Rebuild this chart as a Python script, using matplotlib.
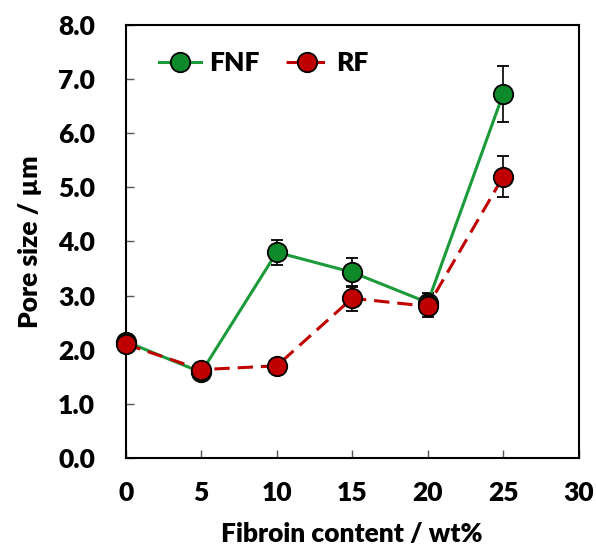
import numpy as np
import matplotlib
matplotlib.use("Agg")
import matplotlib.pyplot as plt
from matplotlib.lines import Line2D

plt.rcParams['font.family'] = ['Lato', 'DejaVu Sans']
plt.rcParams['font.weight'] = 'heavy'

content = [0, 5, 10, 15, 20, 25]
fnf = [2.15, 1.58, 3.80, 3.43, 2.87, 6.73]
fnf_err = [0.12, 0.05, 0.23, 0.27, 0.18, 0.52]
rf = [2.10, 1.63, 1.70, 2.95, 2.80, 5.20]
rf_err = [0.05, 0.05, 0.05, 0.23, 0.20, 0.38]

green = '#0E8A2A'
red = '#C00000'
dash = (5, 2.6)

fig = plt.figure(figsize=(5.96, 5.45), dpi=100)
ax = fig.add_axes([0.211, 0.160, 0.760, 0.794])

ax.errorbar(content, fnf, yerr=fnf_err, fmt='-o', color='#1A9A38', lw=2.2,
            ecolor='black', elinewidth=1.2, capsize=4, capthick=1.2,
            marker='o', markersize=14, markerfacecolor=green,
            markeredgecolor='black', markeredgewidth=1.3,
            clip_on=False, zorder=3)
ax.errorbar(content, rf, yerr=rf_err, fmt='--o', color=red, lw=2.2,
            dashes=dash, ecolor='black', elinewidth=1.2, capsize=4, capthick=1.2,
            marker='o', markersize=14, markerfacecolor=red,
            markeredgecolor='black', markeredgewidth=1.3,
            clip_on=False, zorder=4)

ax.set_xlim(0, 30)
ax.set_ylim(0, 8)
ax.set_xticks(range(0, 31, 5))
ax.set_yticks(np.arange(0, 8.1, 1.0))
ax.set_yticklabels(['%.1f' % v for v in np.arange(0, 8.1, 1.0)])
ax.tick_params(direction='in', length=6, width=1, labelsize=19, color='#555555')
ax.tick_params(axis='x', pad=17)
ax.tick_params(axis='y', pad=22)
for s in ax.spines.values():
    s.set_linewidth(1.5)
    s.set_color('black')

ax.set_xlabel('Fibroin content / wt%', fontsize=19, fontweight='heavy', labelpad=12)
ax.set_ylabel('Pore size / µm', fontsize=19, fontweight='heavy', labelpad=12)

handles = [
    Line2D([], [], color='#1A9A38', lw=2.2, marker='o', markersize=14,
           markerfacecolor=green, markeredgecolor='black', markeredgewidth=1.3),
    Line2D([], [], color=red, lw=2.2, ls='--', dashes=dash, marker='o', markersize=14,
           markerfacecolor=red, markeredgecolor='black', markeredgewidth=1.3),
]
ax.legend(handles, ['FNF', 'RF'], loc='upper left', ncol=2, frameon=False, fontsize=19,
          handlelength=1.6, columnspacing=1.0, handletextpad=0.3,
          bbox_to_anchor=(0.02, 0.995))

fig.savefig('out.png', dpi=100)
